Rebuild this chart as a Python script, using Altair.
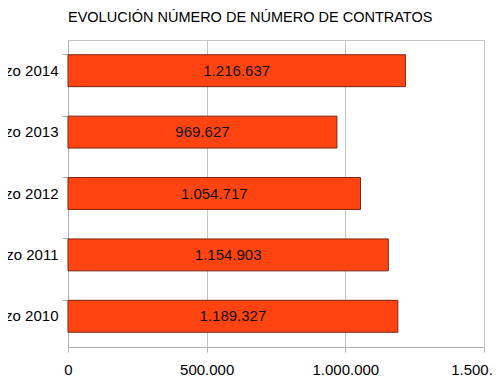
import altair as alt
import pandas as pd

categories = ["Marzo 2014", "Marzo 2013", "Marzo 2012", "Marzo 2011", "Marzo 2010"]
contratos = [1216637, 969627, 1054717, 1154903, 1189327]
x_ticks = [0, 500000, 1000000, 1500000]

df = pd.DataFrame({"periodo": categories, "contratos": contratos})

FONT = "Liberation Sans"
FS = 15

y_enc = alt.Y(
    "periodo:N",
    sort=categories,
    title=None,
    scale=alt.Scale(paddingInner=0.48, paddingOuter=0.24),
    axis=alt.Axis(
        bandPosition=0,
        domainColor="#b0b0b0",
        tickColor="#b0b0b0",
        tickSize=6,
        labelPadding=4,
        labelFont=FONT,
        labelFontSize=FS,
        labelColor="#000000",
        labelLimit=0,
        grid=False,
    ),
)

bars = alt.Chart(df).mark_bar(
    color="#ff4411", stroke="#7a2412", strokeWidth=1
).encode(
    x=alt.X(
        "contratos:Q",
        title=None,
        scale=alt.Scale(domain=[0, 1500000], nice=False),
        axis=alt.Axis(
            values=x_ticks,
            format=",.0f",
            domainColor="#b0b0b0",
            tickColor="#b0b0b0",
            tickSize=5,
            labelPadding=10,
            labelFont=FONT,
            labelFontSize=FS,
            labelColor="#000000",
            gridColor="#c4c4c4",
            labelOverlap=False,
            labelFlush=False,
        ),
    ),
    y=y_enc,
)

labels = alt.Chart(df).transform_calculate(
    mid="datum.contratos / 2"
).mark_text(font=FONT, fontSize=FS, color="#111111", baseline="middle", align="center").encode(
    x=alt.X("mid:Q"),
    y=alt.Y("periodo:N", sort=categories),
    text=alt.Text("contratos:Q", format=",.0f"),
)

chart = (
    alt.layer(bars, labels)
    .properties(
        width=416,
        height=307,
        autosize=alt.AutoSizeParams(type="none"),
        padding={"left": 60, "top": 32, "right": 8, "bottom": 30},
        title=alt.TitleParams(
            "EVOLUCIÓN NÚMERO DE NÚMERO DE CONTRATOS",
            anchor="start",
            frame="group",
            font=FONT,
            fontSize=14.5,
            fontWeight="normal",
            color="#000000",
            offset=15,
        ),
    )
    .configure(locale={"number": {"decimal": ",", "thousands": ".", "grouping": [3], "currency": ["", " €"]}})
    .configure_view(stroke="#c4c4c4")
    .configure_axisX(grid=True)
)

chart.save("out.html", embed_options={"renderer": "svg", "actions": False})
